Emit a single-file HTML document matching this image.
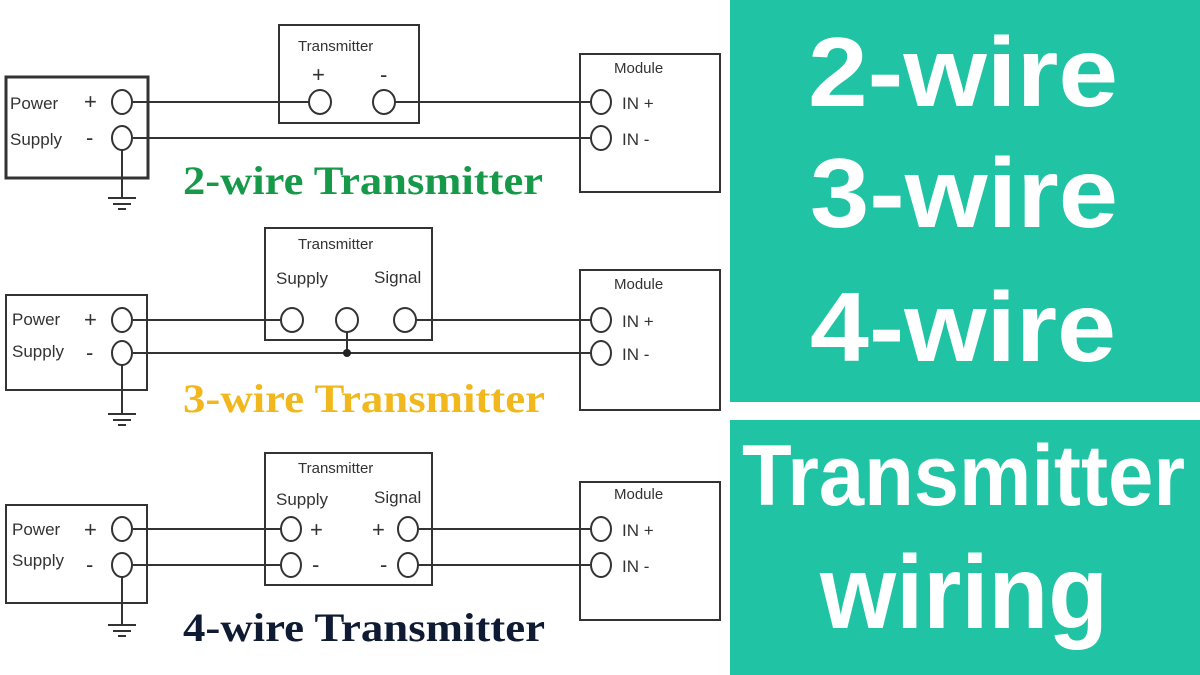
<!DOCTYPE html>
<html><head><meta charset="utf-8"><style>
body{margin:0;width:1200px;height:675px;overflow:hidden;background:#fff}
svg{display:block}
.s{font-family:"Liberation Sans",sans-serif;font-size:17px;fill:#333}
.b{font-family:"Liberation Serif",serif;font-weight:bold;font-size:40px}
.w{font-family:"Liberation Sans",sans-serif;font-weight:bold;fill:#fff}
</style></head><body>
<svg width="1200" height="675" viewBox="0 0 1200 675">
<rect x="730" y="0" width="470" height="402" fill="#20c4a4"/>
<rect x="730" y="420" width="470" height="255" fill="#20c4a4"/>
<text class="w" x="808" y="106" font-size="98" textLength="310" lengthAdjust="spacingAndGlyphs">2-wire</text>
<text class="w" x="810" y="227" font-size="98" textLength="308" lengthAdjust="spacingAndGlyphs">3-wire</text>
<text class="w" x="810" y="361" font-size="98" textLength="306" lengthAdjust="spacingAndGlyphs">4-wire</text>
<text class="w" x="742" y="505" font-size="86" textLength="443" lengthAdjust="spacingAndGlyphs">Transmitter</text>
<text class="w" x="820" y="628" font-size="104" textLength="288" lengthAdjust="spacingAndGlyphs">wiring</text>

<g stroke="#333" stroke-width="2" fill="none">
<rect x="6" y="77" width="142" height="101" stroke-width="3"/>
<rect x="279" y="25" width="140" height="98"/>
<rect x="580" y="54" width="140" height="138"/>
<line x1="133" y1="102" x2="309" y2="102"/><line x1="395" y1="102" x2="590" y2="102"/>
<line x1="133" y1="138" x2="590" y2="138"/>
<line x1="122" y1="149" x2="122" y2="198"/>
<line x1="108" y1="198" x2="136" y2="198"/><line x1="113" y1="204" x2="131" y2="204"/><line x1="118" y1="209" x2="126" y2="209"/>
<ellipse cx="122" cy="102" rx="10" ry="12" fill="#fff"/><ellipse cx="122" cy="138" rx="10" ry="12" fill="#fff"/>
<ellipse cx="320" cy="102" rx="11" ry="12" fill="#fff"/><ellipse cx="384" cy="102" rx="11" ry="12" fill="#fff"/>
<ellipse cx="601" cy="102" rx="10" ry="12" fill="#fff"/><ellipse cx="601" cy="138" rx="10" ry="12" fill="#fff"/>
<rect x="6" y="295" width="141" height="95"/>
<rect x="265" y="228" width="167" height="112"/>
<rect x="580" y="270" width="140" height="140"/>
<line x1="133" y1="320" x2="281" y2="320"/><line x1="416" y1="320" x2="590" y2="320"/>
<line x1="133" y1="353" x2="590" y2="353"/>
<line x1="347" y1="332" x2="347" y2="353"/>
<line x1="122" y1="365" x2="122" y2="414"/>
<line x1="108" y1="414" x2="136" y2="414"/><line x1="113" y1="420" x2="131" y2="420"/><line x1="118" y1="425" x2="126" y2="425"/>
<ellipse cx="122" cy="320" rx="10" ry="12" fill="#fff"/><ellipse cx="122" cy="353" rx="10" ry="12" fill="#fff"/>
<ellipse cx="292" cy="320" rx="11" ry="12" fill="#fff"/><ellipse cx="347" cy="320" rx="11" ry="12" fill="#fff"/><ellipse cx="405" cy="320" rx="11" ry="12" fill="#fff"/>
<ellipse cx="601" cy="320" rx="10" ry="12" fill="#fff"/><ellipse cx="601" cy="353" rx="10" ry="12" fill="#fff"/>
<rect x="6" y="505" width="141" height="98"/>
<rect x="265" y="453" width="167" height="132"/>
<rect x="580" y="482" width="140" height="138"/>
<line x1="133" y1="529" x2="281" y2="529"/><line x1="419" y1="529" x2="590" y2="529"/>
<line x1="133" y1="565" x2="281" y2="565"/><line x1="419" y1="565" x2="590" y2="565"/>
<line x1="122" y1="577" x2="122" y2="625"/>
<line x1="108" y1="625" x2="136" y2="625"/><line x1="113" y1="631" x2="131" y2="631"/><line x1="118" y1="636" x2="126" y2="636"/>
<ellipse cx="122" cy="529" rx="10" ry="12" fill="#fff"/><ellipse cx="122" cy="565" rx="10" ry="12" fill="#fff"/>
<ellipse cx="291" cy="529" rx="10" ry="12" fill="#fff"/><ellipse cx="291" cy="565" rx="10" ry="12" fill="#fff"/>
<ellipse cx="408" cy="529" rx="10" ry="12" fill="#fff"/><ellipse cx="408" cy="565" rx="10" ry="12" fill="#fff"/>
<ellipse cx="601" cy="529" rx="10" ry="12" fill="#fff"/><ellipse cx="601" cy="565" rx="10" ry="12" fill="#fff"/>
</g>
<circle cx="347" cy="353" r="4" fill="#222"/>

<g class="s">
<text x="10" y="109">Power</text><text x="10" y="145">Supply</text>
<text x="84" y="109" font-size="22">+</text><text x="86" y="145" font-size="22">-</text>
<text x="298" y="51" font-size="15">Transmitter</text>
<text x="312" y="82" font-size="22">+</text><text x="380" y="82" font-size="22">-</text>
<text x="614" y="73" font-size="15">Module</text>
<text x="622" y="109">IN +</text><text x="622" y="145">IN -</text>
<text x="12" y="325">Power</text><text x="12" y="357">Supply</text>
<text x="84" y="327" font-size="22">+</text><text x="86" y="360" font-size="22">-</text>
<text x="298" y="249" font-size="15">Transmitter</text>
<text x="276" y="284">Supply</text><text x="374" y="283">Signal</text>
<text x="614" y="289" font-size="15">Module</text>
<text x="622" y="327">IN +</text><text x="622" y="360">IN -</text>
<text x="12" y="535">Power</text><text x="12" y="566">Supply</text>
<text x="84" y="537" font-size="22">+</text><text x="86" y="572" font-size="22">-</text>
<text x="298" y="473" font-size="15">Transmitter</text>
<text x="276" y="505">Supply</text><text x="374" y="503">Signal</text>
<text x="310" y="537" font-size="22">+</text><text x="312" y="572" font-size="22">-</text>
<text x="372" y="537" font-size="22">+</text><text x="380" y="572" font-size="22">-</text>
<text x="614" y="499" font-size="15">Module</text>
<text x="622" y="536">IN +</text><text x="622" y="572">IN -</text>
</g>
<text class="b" x="183" y="194" fill="#17994a" textLength="360" lengthAdjust="spacingAndGlyphs">2-wire Transmitter</text>
<text class="b" x="183" y="412" fill="#f0b81c" textLength="362" lengthAdjust="spacingAndGlyphs">3-wire Transmitter</text>
<text class="b" x="183" y="641" fill="#0f1a33" textLength="362" lengthAdjust="spacingAndGlyphs">4-wire Transmitter</text>
</svg>
</body></html>
